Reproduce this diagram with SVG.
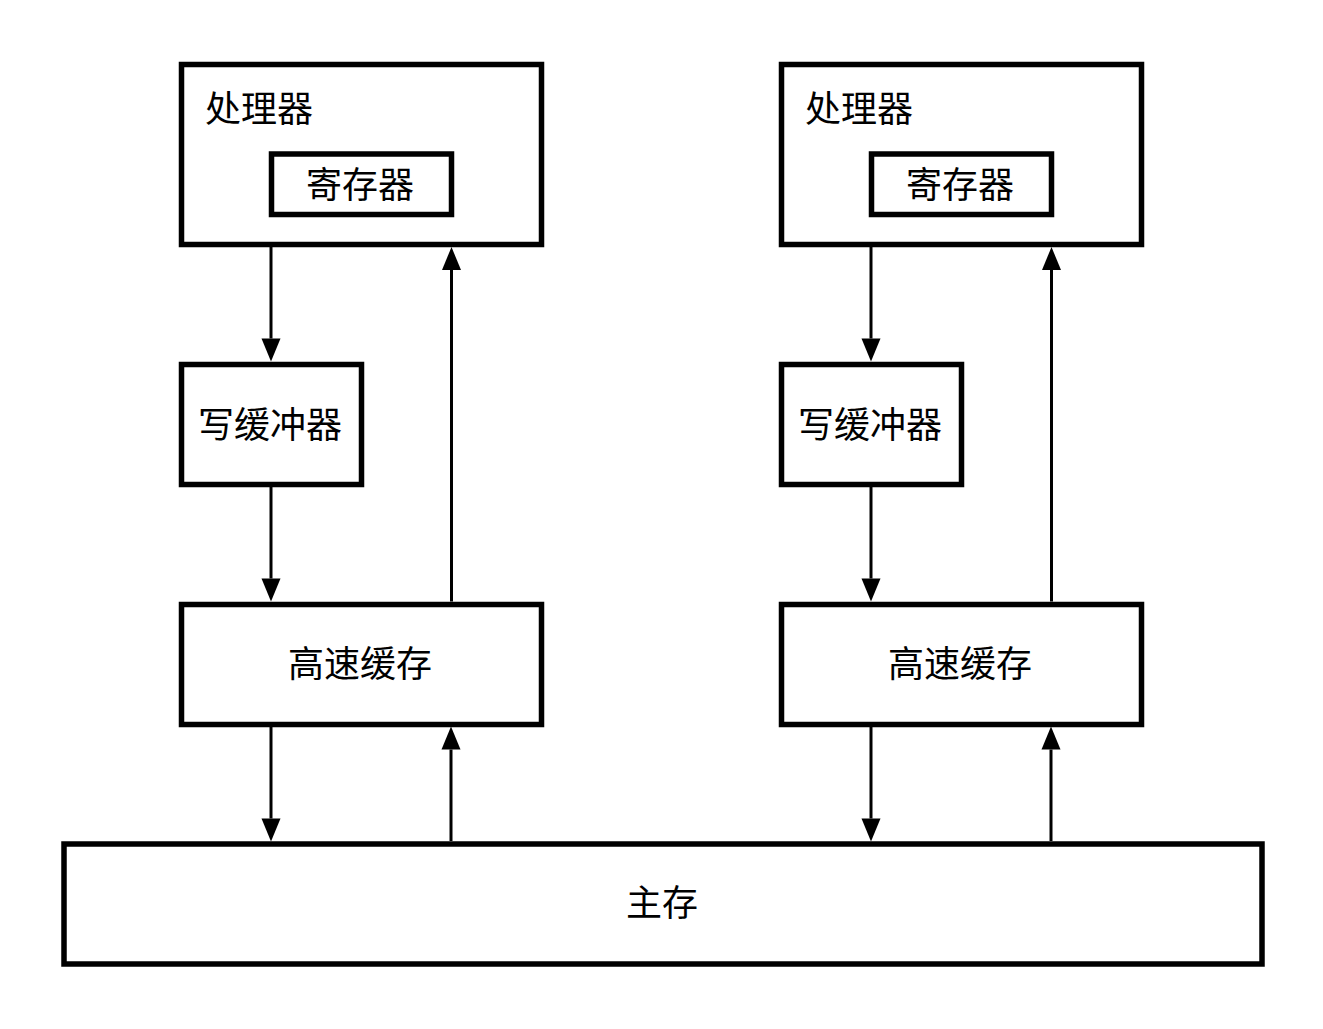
<svg xmlns="http://www.w3.org/2000/svg" width="1323" height="1029" viewBox="0 0 1323 1029">
<style>
.box{fill:#fff;stroke:#000;stroke-width:5.5}
.lbl{font-family:"Noto Sans CJK SC","Noto Sans",sans-serif;font-size:36px;fill:#000;dominant-baseline:central}
.mid{text-anchor:middle}
.con{stroke:#000;stroke-width:3;fill:none;marker-end:url(#ah)}
</style>
<defs>
<marker id="ah" markerUnits="userSpaceOnUse" markerWidth="24" markerHeight="20" refX="0" refY="9.5" orient="auto" overflow="visible">
<path d="M0,0 L23,9.5 L0,19 Z" fill="#000"/>
</marker>
</defs>
<rect width="1323" height="1029" fill="#fff"/>
<g id="cpu1">
<rect class="box" x="181.5" y="64.5" width="360" height="180"/>
<text class="lbl" x="205" y="105.5">处理器</text>
</g>
<g id="reg1">
<rect class="box" x="271.5" y="154" width="180" height="60.5"/>
<text class="lbl mid" x="360" y="181.5">寄存器</text>
</g>
<g id="wb1">
<rect class="box" x="181.5" y="364.5" width="180" height="120"/>
<text class="lbl mid" x="270" y="421.5">写缓冲器</text>
</g>
<g id="cache1">
<rect class="box" x="181.5" y="604.5" width="360" height="120"/>
<text class="lbl mid" x="360" y="660.5">高速缓存</text>
</g>
<g id="cpu2">
<rect class="box" x="781.5" y="64.5" width="360" height="180"/>
<text class="lbl" x="805" y="105.5">处理器</text>
</g>
<g id="reg2">
<rect class="box" x="871.5" y="154" width="180" height="60.5"/>
<text class="lbl mid" x="960" y="181.5">寄存器</text>
</g>
<g id="wb2">
<rect class="box" x="781.5" y="364.5" width="180" height="120"/>
<text class="lbl mid" x="870" y="421.5">写缓冲器</text>
</g>
<g id="cache2">
<rect class="box" x="781.5" y="604.5" width="360" height="120"/>
<text class="lbl mid" x="960" y="660.5">高速缓存</text>
</g>
<g id="mem">
<rect class="box" x="64" y="844" width="1198" height="120"/>
<text class="lbl mid" x="662" y="900">主存</text>
</g>
<g id="connectors">
<path class="con" d="M271,247 V338.5"/>
<path class="con" d="M271,487 V578.5"/>
<path class="con" d="M451.5,601.5 V270"/>
<path class="con" d="M271,727 V818.5"/>
<path class="con" d="M451,841 V749.5"/>
<path class="con" d="M871,247 V338.5"/>
<path class="con" d="M871,487 V578.5"/>
<path class="con" d="M1051.5,601.5 V270"/>
<path class="con" d="M871,727 V818.5"/>
<path class="con" d="M1051,841 V749.5"/>
</g>
</svg>
